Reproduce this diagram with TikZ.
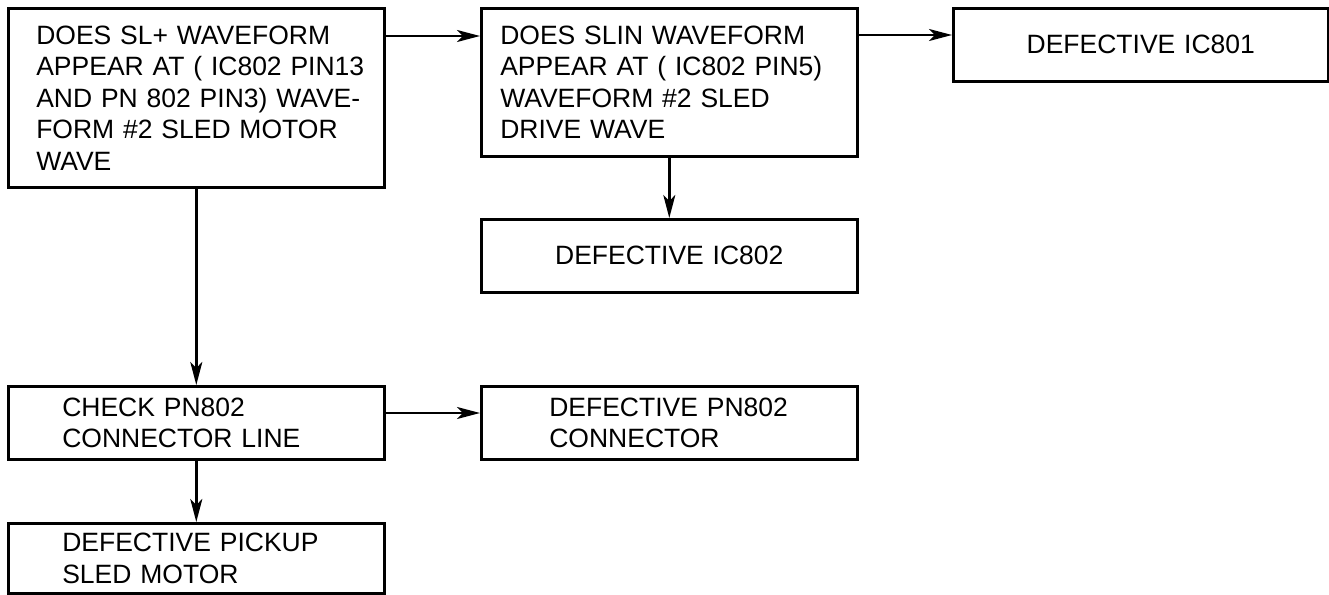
\documentclass[tikz,border=0pt]{standalone}
\usepackage{fontspec}
\setmainfont{Liberation Sans}
\usetikzlibrary{arrows.meta, positioning}

\begin{document}
\begin{tikzpicture}[x=1pt, y=-1pt,
  stepbox/.style={draw, line width=2.6pt, rectangle, anchor=north west, align=left,
                  font=\fontsize{26.5}{31.5}\selectfont, inner ysep=0pt},
  flow/.style={-{Stealth[length=23pt, width=12pt, inset=6pt]}, line width=2.4pt}
]
  \useasboundingbox (0,0) rectangle (1329,594);

  \node[stepbox, text width=320pt, inner xsep=28pt, minimum height=179pt] (wave) at (7,7)
        {DOES SL+ WAVEFORM\\\mbox{APPEAR AT ( IC802 PIN13}\\\mbox{AND PN 802 PIN3) WAVE-}\\FORM \#2 SLED MOTOR\\WAVE};
  \node[stepbox, text width=338pt, inner xsep=19pt, minimum height=148pt] (slin) at (480,7)
        {DOES SLIN WAVEFORM\\\mbox{APPEAR AT ( IC802 PIN5)}\\WAVEFORM \#2 SLED\\DRIVE WAVE};
  \node[stepbox, align=center, text width=355pt, inner xsep=10pt, minimum height=73pt] (ic801) at (952,7)
        {DEFECTIVE IC801};
  \node[stepbox, align=center, text width=356pt, inner xsep=10pt, minimum height=73pt] (ic802) at (480,218)
        {DEFECTIVE IC802};
  \node[stepbox, text width=268pt, inner xsep=54pt, minimum height=73pt] (check) at (7,385)
        {CHECK PN802\\CONNECTOR LINE};
  \node[stepbox, text width=240pt, inner xsep=68pt, minimum height=73pt] (pn802) at (480,385)
        {\mbox{DEFECTIVE PN802}\\CONNECTOR};
  \node[stepbox, text width=268pt, inner xsep=54pt, minimum height=70pt] (pickup) at (7,522)
        {DEFECTIVE PICKUP\\SLED MOTOR};

  \draw[flow] ([yshift=-29pt]wave.north east) -- ([yshift=-29pt]slin.north west);
  \draw[flow] ([yshift=-28pt]slin.north east) -- ([yshift=-28pt]ic801.north west);
  \draw[flow] (slin.south) -- (ic802.north);
  \draw[flow] (wave.south) -- (check.north);
  \draw[flow] ([yshift=-28pt]check.north east) -- ([yshift=-28pt]pn802.north west);
  \draw[flow] (check.south) -- (pickup.north);
\end{tikzpicture}
\end{document}
